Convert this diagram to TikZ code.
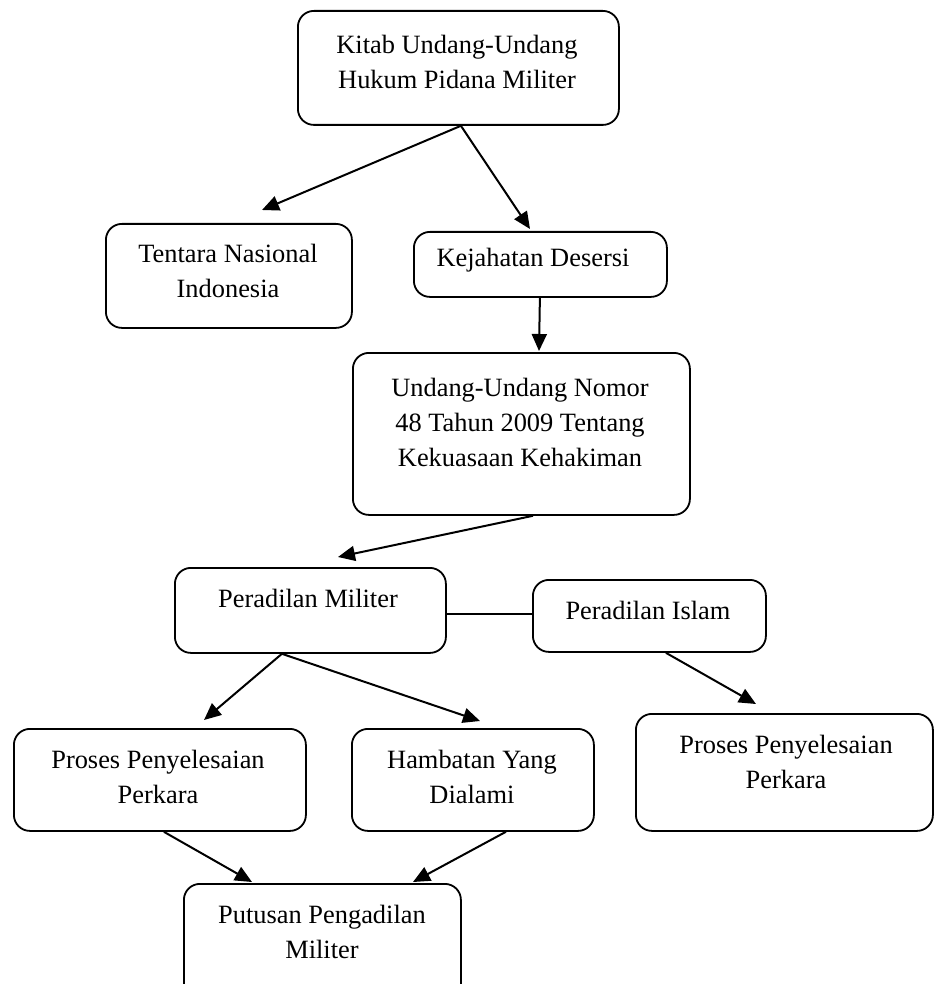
\documentclass[tikz,border=0pt]{standalone}
\usepackage{fontspec}
\setmainfont{Liberation Serif}
\usetikzlibrary{arrows.meta}
\begin{document}
\begin{tikzpicture}[x=1pt,y=-1pt,
  box/.style={draw=black, line width=1.8pt, rounded corners=16pt, inner sep=0pt, anchor=north west},
  txt/.style={align=center, inner sep=0pt, font=\fontsize{26.4}{35}\selectfont},
  arr/.style={line width=2pt, -{Triangle[length=17pt,width=15pt]}},
  lin/.style={line width=1.8pt}]
\useasboundingbox (0,0) rectangle (934,984);
\clip (0,0) rectangle (934,984);
% boxes
\node[box, minimum width=321pt, minimum height=114pt] (kitab) at (297,10) {};
\node[box, minimum width=246pt, minimum height=104pt] (tni) at (105,223) {};
\node[box, minimum width=253pt, minimum height=65pt] (kej) at (413,231) {};
\node[box, minimum width=337pt, minimum height=162pt] (uu) at (352,352) {};
\node[box, minimum width=271pt, minimum height=85pt] (pm) at (174,567) {};
\node[box, minimum width=233pt, minimum height=72pt] (pi) at (532,579) {};
\node[box, minimum width=292pt, minimum height=102pt] (pl) at (13,728) {};
\node[box, minimum width=242pt, minimum height=102pt] (hb) at (351,728) {};
\node[box, minimum width=297pt, minimum height=117pt] (pr) at (635,713) {};
\node[box, minimum width=277pt, minimum height=140pt] (pt) at (183,883) {};
% texts
\node[txt] (tkitab) at (457,62) {Kitab Undang-Undang\\Hukum Pidana Militer};
\node[txt] (ttni) at (228,271) {Tentara Nasional\\Indonesia};
\node[txt] (tkej) at (533,260) {Kejahatan Desersi};
\node[txt] (tuu) at (520,422) {Undang-Undang Nomor\\48 Tahun 2009 Tentang\\Kekuasaan Kehakiman};
\node[txt] (tpm) at (308,598) {Peradilan Militer};
\node[txt] (tpi) at (648,610) {Peradilan Islam};
\node[txt] (tpl) at (158,777) {Proses Penyelesaian\\Perkara};
\node[txt] (thb) at (472,777) {Hambatan Yang\\Dialami};
\node[txt] (tpr) at (786,762) {Proses Penyelesaian\\Perkara};
\node[txt] (tpt) at (322,932) {Putusan Pengadilan\\Militer};
% arrow end points
\coordinate (e1) at (262,210);
\coordinate (e2) at (530,229);
\coordinate (e3) at (539,351);
\coordinate (e4) at (338,557);
\coordinate (e5) at (204,720);
\coordinate (e6) at (480,721);
\coordinate (e7) at (756,704);
\coordinate (e8) at (252,882);
\coordinate (e9) at (413,882);
% connectors
\draw[arr] ([xshift=2.5pt]kitab.south) -- (e1);
\draw[arr] ([xshift=2.5pt]kitab.south) -- (e2);
\draw[arr] ([xshift=-0.5pt]kej.south) -- (e3);
\draw[arr] ([xshift=11.5pt]uu.south) -- (e4);
\draw[lin] ([yshift=-3.5pt]pm.east) -- ([yshift=2pt]pi.west);
\draw[arr] ([xshift=-28.5pt]pm.south) -- (e5);
\draw[arr] ([xshift=-28.5pt]pm.south) -- (e6);
\draw[arr] ([xshift=16.5pt]pi.south) -- (e7);
\draw[arr] ([xshift=4pt]pl.south) -- (e8);
\draw[arr] ([xshift=33pt]hb.south) -- (e9);
\end{tikzpicture}
\end{document}
